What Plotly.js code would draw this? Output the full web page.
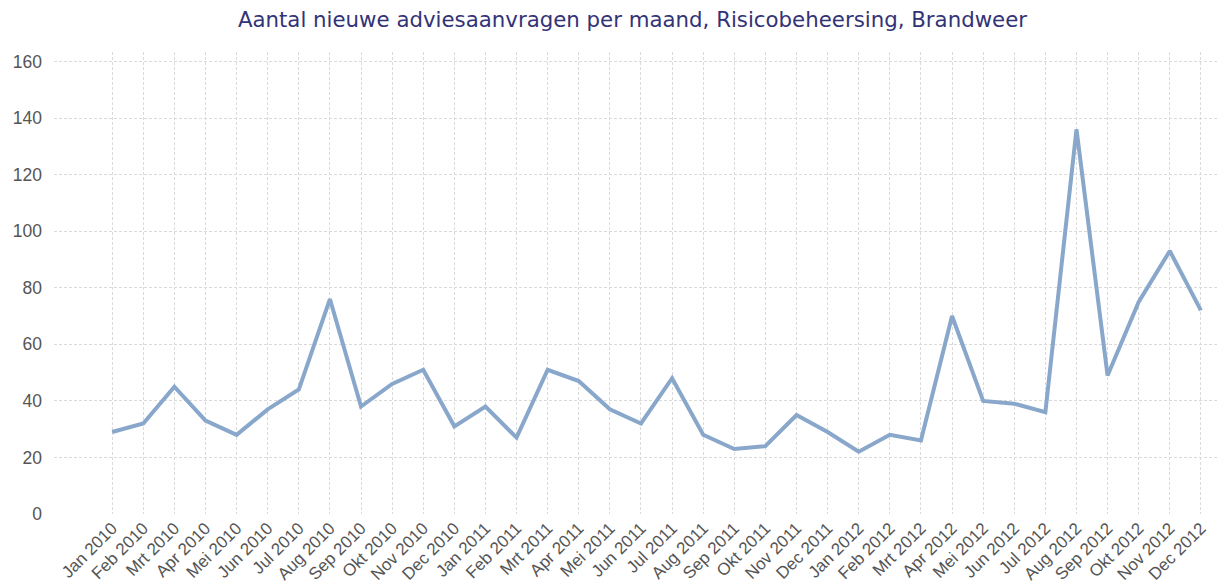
<!DOCTYPE html>
<html>
<head>
<meta charset="utf-8">
<script src="https://cdn.plot.ly/plotly-3.0.1.min.js"></script>
<style>html,body{margin:0;padding:0;background:#fff;}#chart{width:1221px;height:583px;}</style>
</head>
<body>
<div id="chart"></div>
<script>
const months = ["Jan 2010","Feb 2010","Mrt 2010","Apr 2010","Mei 2010","Jun 2010","Jul 2010","Aug 2010","Sep 2010","Okt 2010","Nov 2010","Dec 2010",
"Jan 2011","Feb 2011","Mrt 2011","Apr 2011","Mei 2011","Jun 2011","Jul 2011","Aug 2011","Sep 2011","Okt 2011","Nov 2011","Dec 2011",
"Jan 2012","Feb 2012","Mrt 2012","Apr 2012","Mei 2012","Jun 2012","Jul 2012","Aug 2012","Sep 2012","Okt 2012","Nov 2012","Dec 2012"];
const aanvragen = [29,32,45,33,28,37,44,76,38,46,51,31,
38,27,51,47,37,32,48,28,23,24,35,29,
22,28,26,70,40,39,36,136,49,75,93,72];
const yTicks = [0,20,40,60,80,100,120,140,160];
const titleText = "Aantal nieuwe adviesaanvragen per maand, Risicobeheersing, Brandweer";

const trace = {
  type: 'scatter', mode: 'lines', x: months, y: aanvragen,
  line: {color: '#88a7ca', width: 4}, hoverinfo: 'x+y'
};
const layout = {
  width: 1221, height: 583,
  margin: {l: 54, r: 3, t: 52, b: 68.5, pad: 0},
  paper_bgcolor: '#ffffff', plot_bgcolor: '#ffffff',
  showlegend: false,
  title: {text: titleText, x: 0.518, xanchor: 'center', y: 0.966, yanchor: 'middle',
    font: {family: 'DejaVu Sans', size: 21.3, color: '#333377'}},
  xaxis: {type: 'category', range: [-1.87, 35.55], showgrid: true, gridcolor: '#dadada', griddash: '3px,2px', gridwidth: 1,
    zeroline: false, showline: false, ticks: '', tickangle: -45,
    tickfont: {family: 'Liberation Sans', size: 17, color: '#555555'}},
  yaxis: {range: [0, 163.35], tickvals: yTicks, ticktext: yTicks.map(String), showgrid: true, gridcolor: '#dadada',
    griddash: '3px,2px', gridwidth: 1, zeroline: false, showline: false, ticks: '', ticklabelstandoff: 11,
    tickfont: {family: 'Liberation Sans', size: 17.5, color: '#555555'}},
  shapes: [{type: 'line', xref: 'x', yref: 'y', x0: months[0], x1: months[months.length-1], y0: 0, y1: 0,
    line: {color: '#ffffff', width: 2}, layer: 'below'}]
};
Plotly.newPlot('chart', [trace], layout, {displayModeBar: false, staticPlot: true});
</script>
</body>
</html>
